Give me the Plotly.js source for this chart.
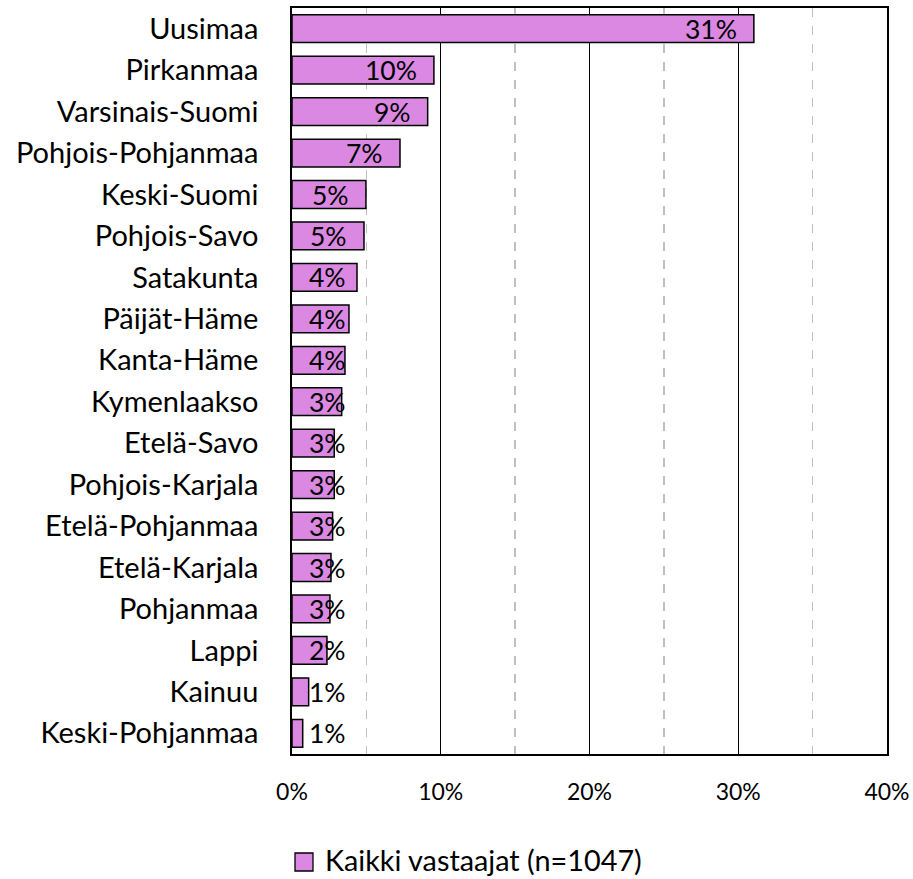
<!DOCTYPE html>
<html>
<head>
<meta charset="utf-8">
<script src="https://cdn.plot.ly/plotly-3.0.1.min.js"></script>
<style>html,body{margin:0;padding:0;background:#fff;}#chart{width:913px;height:879px;}</style>
</head>
<body>
<div id="chart"></div>
<script>
const regions = ["Uusimaa","Pirkanmaa","Varsinais-Suomi","Pohjois-Pohjanmaa","Keski-Suomi","Pohjois-Savo","Satakunta","Päijät-Häme","Kanta-Häme","Kymenlaakso","Etelä-Savo","Pohjois-Karjala","Etelä-Pohjanmaa","Etelä-Karjala","Pohjanmaa","Lappi","Kainuu","Keski-Pohjanmaa"];
const shares = [31.05, 9.54, 9.12, 7.26, 4.97, 4.84, 4.37, 3.83, 3.56, 3.34, 2.84, 2.84, 2.73, 2.62, 2.55, 2.35, 1.12, 0.72];
const labels = ["31%","10%","9%","7%","5%","5%","4%","4%","4%","3%","3%","3%","3%","3%","3%","2%","1%","1%"];
const seriesName = "Kaikki vastaajat (n=1047)";
const xTicks = [0, 10, 20, 30, 40];
const xTickText = ["0%","10%","20%","30%","40%"];

const FONT = "Lato, 'Open Sans', sans-serif";
const fill = "#DA88E1";

const W = 913, H = 879;
const M = {l: 292, r: 26, t: 8, b: 125};
const plotW = W - M.l - M.r, plotH = H - M.t - M.b;
const px2x = p => (p - M.l) / plotW;
const py2y = p => (H - M.b - p) / plotH;

const trace = {
  type: "bar", orientation: "h", y: regions, x: shares, name: seriesName,
  marker: {color: fill, line: {color: "#000000", width: 1.5}},
  hoverinfo: "none", showlegend: false
};

const minLabelPos = 4.77;
const annotations = shares.map((v, i) => ({
  x: Math.max(v, minLabelPos), y: regions[i], xref: "x", yref: "y",
  text: labels[i], showarrow: false, xanchor: "right", yanchor: "middle", xshift: -15,
  font: {family: FONT, size: 26.5, color: "#000000"}
}));
// legend drawn as square + text, placed like the original centred legend
annotations.push({
  x: px2x(323), y: py2y(860), xref: "paper", yref: "paper", text: seriesName,
  showarrow: false, xanchor: "left", yanchor: "middle",
  font: {family: FONT, size: 28.8, color: "#000000"}
});
const shapes = [{
  type: "rect", xref: "paper", yref: "paper",
  x0: px2x(295), x1: px2x(313), y0: py2y(871), y1: py2y(853),
  fillcolor: fill, line: {color: "#000000", width: 1.3}
}];

const layout = {
  width: W, height: H, margin: M, paper_bgcolor: "#ffffff", plot_bgcolor: "#ffffff",
  bargap: 0.33, font: {family: FONT, color: "#000000"},
  xaxis: {
    range: [0, 40], tickvals: xTicks, ticktext: xTickText,
    showgrid: true, gridcolor: "#000000", gridwidth: 1.3,
    minor: {dtick: 5, tick0: 0, showgrid: true, gridcolor: "#BFBFBF", griddash: "dash", gridwidth: 1.3},
    showline: true, mirror: true, linecolor: "#000000", linewidth: 1.8,
    ticks: "outside", ticklen: 17, tickcolor: "rgba(0,0,0,0)",
    tickfont: {family: FONT, size: 23, color: "#000000"}, zeroline: false, fixedrange: true
  },
  yaxis: {
    type: "category", autorange: "reversed", showgrid: false,
    showline: true, mirror: true, linecolor: "#000000", linewidth: 1.8,
    ticks: "outside", ticklen: 26, tickcolor: "rgba(0,0,0,0)",
    tickfont: {family: FONT, size: 29, color: "#000000"}, zeroline: false, fixedrange: true
  },
  showlegend: false, shapes: shapes, annotations: annotations
};

Plotly.newPlot("chart", [trace], layout, {displayModeBar: false, staticPlot: true});
</script>
</body>
</html>
